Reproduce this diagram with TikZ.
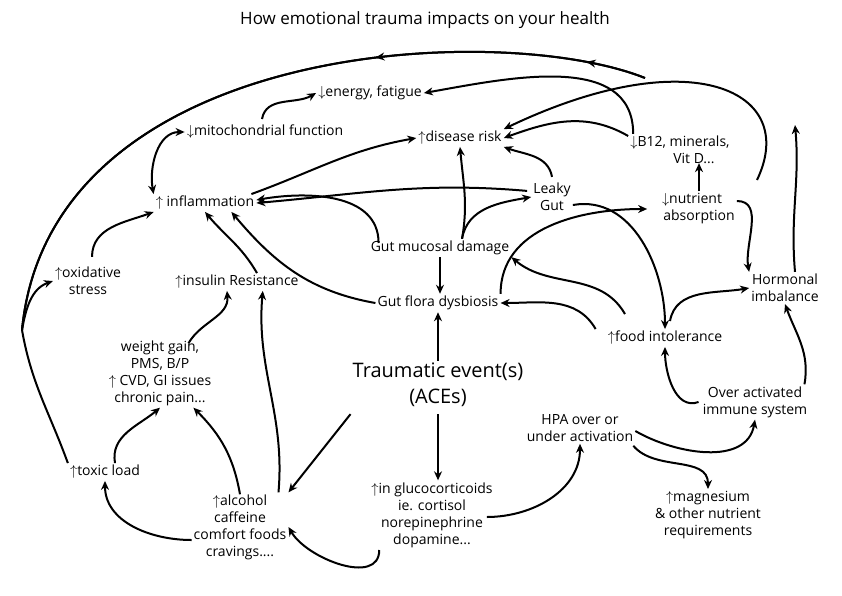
\documentclass[tikz,border=0pt]{standalone}
\usepackage{fontspec}
\setmainfont{Open Sans}
\usetikzlibrary{arrows.meta,decorations.markings}

\begin{document}
\begin{tikzpicture}[x=1pt, y=-1pt,
    box/.style={align=center, font=\fontsize{14}{17}\selectfont, inner sep=2pt},
    big/.style={box, font=\fontsize{20}{26}\selectfont},
    link/.style={line width=2pt, -{Stealth[length=9pt,width=8pt]}},
    midarrow/.style={line width=2pt, postaction={decorate}, decoration={markings,
        mark=at position #1 with {\arrow{Stealth[length=9pt,width=8pt]}}}}
]
    \useasboundingbox (0,0) rectangle (842,595);
    \node[box, font=\fontsize{17}{20}\selectfont] (title) at (425,20) {How emotional trauma impacts on your health};
    % Knoten
    \node[box] (energy) at (370,93) {$\downarrow$energy, fatigue};
    \node[box] (mito) at (265,132) {$\downarrow$mitochondrial function};
    \node[box] (disease) at (460,138) {$\uparrow$disease risk};
    \node[box] (bmin) at (680,150) {$\downarrow$B12, minerals,\\\hspace*{2em}Vit D...};
    \node[box] (leaky) at (552,197) {Leaky\\Gut};
    \node[box] (nutrient) at (692,209) {$\downarrow$nutrient\\\hspace*{1em}absorption};
    \node[box] (inflam) at (205,203) {$\uparrow$ inflammation};
    \node[box] (mucosal) at (440,248) {Gut mucosal damage};
    \node[box] (oxid) at (88,281) {$\uparrow$oxidative\\stress};
    \node[box] (insulin) at (237,282) {$\uparrow$insulin Resistance};
    \node[box] (hormonal) at (785,288) {Hormonal\\imbalance};
    \node[box] (dysb) at (438,303) {Gut flora dysbiosis};
    \node[box] (food) at (665,338) {$\uparrow$food intolerance};
    \node[box] (weight) at (160,373) {weight gain,\\PMS, B/P\\$\uparrow$\ CVD, GI issues\\chronic pain...};
    \node[big] (trauma) at (438,385) {Traumatic event(s)\\(ACEs)};
    \node[box] (immune) at (755,402) {Over activated\\immune system};
    \node[box] (hpa) at (580,428) {HPA over or\\under activation};
    \node[box] (toxic) at (105,472) {$\uparrow$toxic load};
    \node[box] (alcohol) at (240,527) {$\uparrow$alcohol\\caffeine\\comfort foods\\cravings....};
    \node[box] (gluco) at (432,515) {$\uparrow$in glucocorticoids\\ie. cortisol\\norepinephrine\\dopamine...};
    \node[box] (magnes) at (708,515) {$\uparrow$magnesium\\\& other nutrient\\requirements};
    \coordinate (arcR) at (645,78);
    \coordinate (arcL) at (22,330);
    \coordinate (loopS) at (757,180);
    \coordinate (hormUp) at (795,125);
    % Pfeile
    \draw[midarrow=0.36] (arcR) .. controls (500,20) and (50,40) .. (arcL);
    \draw[midarrow=0.08] (arcR) .. controls (500,20) and (50,40) .. (arcL);
    \draw[line width=2pt] (toxic.north west) to[out=110, in=-80] (arcL);
    \draw[link] (arcL) to[out=80, in=200] (oxid.west);
    \draw[link] (loopS) .. controls (800,90) and (690,40) .. (disease.north east);
    \draw[line width=2pt, {Stealth[length=9pt,width=8pt]}-{Stealth[length=9pt,width=8pt]}] (inflam.north west) to[out=100, in=180] (mito.west);
    \draw[link] (mito.north) ++(-3,-4) to[out=80, in=210] (energy.west);
    \draw[link] (bmin.north west) ++(5,0) to[out=90, in=10] (energy.east);
    \draw[link] (bmin.west) ++(0,-14) to[out=150, in=20] (disease.east);
    \draw[link] (leaky.north) ++(0,-4) to[out=100, in=-20] (disease.south east);
    \draw[link] (inflam.north east) ++(-5,0) to[out=20, in=190] (disease.west);
    \draw[link] (leaky.north west) ++(-4,10) to[out=175, in=5] (inflam.east);
    \draw[link] (mucosal.north) ++(22,0) to[out=80, in=-85] (disease.south);
    \draw[link] (mucosal.north) ++(22,0) to[out=80, in=190] (leaky.west);
    \draw[link] (mucosal.west) ++(10,-5) to[out=90, in=10] ([yshift=3pt]inflam.east);
    \draw[link] (dysb.west) to[out=170, in=-50] ([xshift=-25pt]inflam.south east);
    \draw[link] (insulin.north) ++(20,0) to[out=120, in=-50] (inflam.south);
    \draw[link] (oxid.north) ++(4,-8) to[out=90, in=200] (inflam.south west);
    \draw[link] (mucosal.south) -- (mucosal.south |- dysb.north);
    \draw[link] (trauma.north) -- (dysb.south);
    \draw[link] (trauma.south) ++(0,5) -- (trauma.south |- gluco.north);
    \draw[link] (food.north west) ++(-10,0) to[out=120, in=0] (dysb.east);
    \draw[link] (food.north) ++(-40,-15) to[out=120, in=-40] (mucosal.south east);
    \draw[link] (dysb.north east) to[out=90, in=180] (nutrient.west);
    \draw[link] (leaky.east) ++(0,8) to[out=10, in=90] (food.north);
    \draw[link] (food.north) ++(5,-8) to[out=80, in=190] (hormonal.west);
    \draw[link] (nutrient.east) ++(0,-8) to[out=0, in=100] (hormonal.north west);
    \draw[link] (nutrient.north) ++(7,0) -- ([xshift=7pt,yshift=3pt]nutrient.north |- bmin.south);
    \draw[link] (hormonal.north) ++(10,0) to[out=95, in=-85] (hormUp);
    \draw[link] (immune.west) ++(-2,0) to[out=200, in=-90] (food.south);
    \draw[link] (immune.north east) ++(-5,0) to[out=80, in=-70] (hormonal.south);
    \draw[link] (hpa.east) ++(0,3) to[out=-30, in=-100] (immune.south);
    \draw[link] (hpa.south east) ++(-2,2) to[out=-50, in=90] (magnes.north);
    \draw[link] (gluco.east) ++(-8,2) to[out=0, in=-90] (hpa.south);
    \draw[link] (trauma.south west) ++(0,5) -- (alcohol.north east);
    \draw[link] (gluco.west) ++(10,35) to[out=-90, in=-60] (alcohol.east);
    \draw[link] (alcohol.west) ++(0,13) to[out=180, in=-90] (toxic.south);
    \draw[link] (toxic.north) ++(10,0) to[out=100, in=220] (weight.south);
    \draw[link] (alcohol.north) ++(0,2) to[out=100, in=-45] ([xshift=-20pt]weight.south east);
    \draw[link] (alcohol.north east) ++(-10,0) to[out=85, in=-95] ([xshift=-38pt]insulin.south east);
    \draw[link] (weight.north east) ++(-25,5) to[out=60, in=-85] ([xshift=-10pt]insulin.south);
\end{tikzpicture}
\end{document}
